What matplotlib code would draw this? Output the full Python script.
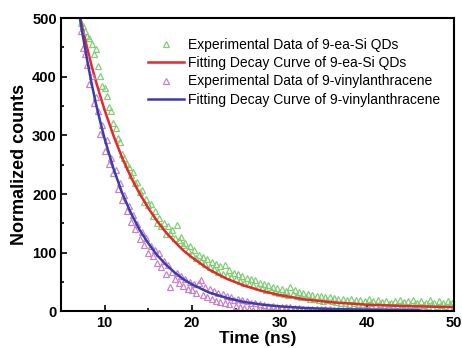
import numpy as np
import matplotlib
matplotlib.use("Agg")
import matplotlib.pyplot as plt
from matplotlib.ticker import MultipleLocator

plt.rcParams["font.family"] = ["Liberation Sans", "DejaVu Sans"]

# ── Data ──────────────────────────────────────────────────
T0, DT = 7.25, 0.25  # time channel grid of the measured decays

qd_counts = [
    491, 486, 478, 470, 466, 455, 438, 447, 418, 402, 385, 381, 367, 348, 342, 321,
    313, 296, 289, 268, 262, 251, 246, 233, 238, 219, 221, 204, 207, 186, 192, 181,
    183, 162, 171, 150, 160, 146, 151, 132, 146, 133, 138, 125, 148, 122, 127, 114,
    117, 105, 112, 98, 104, 91, 97, 86, 93, 81, 89, 76, 84, 72, 81, 68,
    77, 64, 79, 62, 70, 58, 66, 55, 63, 52, 60, 49, 57, 47, 55, 45,
    53, 41, 49, 40, 47, 37, 45, 36, 42, 33, 40, 31, 38, 30, 35, 28,
    41, 29, 37, 27, 33, 25, 31, 24, 30, 22, 28, 21, 27, 20, 26, 18,
    25, 19, 24, 17, 23, 16, 22, 15, 21, 14, 20, 13, 21, 14, 19, 12,
    20, 13, 18, 12, 21, 14, 17, 11, 19, 12, 16, 10, 18, 13, 15, 10,
    17, 11, 19, 12, 16, 10, 17, 11, 20, 12, 14, 9, 18, 11, 15, 10,
    19, 12, 14, 9, 17, 11, 15, 10, 18, 12, 14, 9,
]

va_counts = [
    478, 449, 438, 420, 387, 401, 356, 365, 341, 302, 318, 273, 292, 251, 262, 236,
    241, 208, 219, 190, 198, 171, 180, 152, 164, 140, 149, 124, 136, 113, 125, 99,
    112, 94, 104, 82, 99, 76, 86, 64, 79, 42, 68, 55, 66, 49, 60, 44,
    56, 38, 50, 36, 47, 31, 48, 54, 28, 41, 24, 38, 21, 35, 18, 31,
    16, 29, 14, 27, 12, 24, 20, 10, 22, 8, 19, 6, 17, 4, 15, 3,
    14, 2, 12, 3, 11, 2, 10, 4, 9, 2, 8, 3, 8, 2, 7, 3,
    7, 1, 6, 2, 6, 1, 5, 2, 5, 1, 5, 2, 4, 1, 4, 2,
    4, 1, 4, 1, 3, 1, 3, 1, 3, 0, 3, 1, 3, 0, 2, 1,
    3, 0, 2, 1, 2, 0, 2, 1, 2, 0, 2, 1, 2, 0, 2, 1,
    2, 0, 1, 1, 2, 0, 1, 1, 2, 0, 1, 1, 1, 0, 1,
]

qd_fit_t = [7.1, 7.5, 8, 8.5, 9, 9.5, 10, 11, 12, 13, 14, 15, 16, 17, 18, 19, 20,
            22, 24, 26, 28, 30, 33, 36, 40, 45, 50]
qd_fit_y = [507, 480, 449, 419, 392, 367, 343, 300, 262, 229, 201, 176, 154, 135, 119, 104, 92,
            71, 55.5, 44, 35, 28, 20.4, 15.6, 11.5, 9, 7.4]

va_fit_t = [7.1, 7.5, 8, 8.5, 9, 9.5, 10, 11, 12, 13, 14, 15, 16, 17, 18, 19, 20,
            22, 24, 26, 28, 30, 33, 36, 40, 43, 46]
va_fit_y = [506, 470, 428, 389, 354, 323, 294, 244, 202, 168, 139, 116, 96, 80, 66.5, 55, 46,
            32, 23, 16, 11.7, 8.7, 5.8, 4.2, 3, 2.5, 2.2]

labels = [
    "Experimental Data of 9-ea-Si QDs",
    "Fitting Decay Curve of 9-ea-Si QDs",
    "Experimental Data of 9-vinylanthracene",
    "Fitting Decay Curve of 9-vinylanthracene",
]

qd_t = T0 + DT * np.arange(len(qd_counts))
va_t = T0 + DT * np.arange(len(va_counts))

# ── Figure ────────────────────────────────────────────────
fig = plt.figure(figsize=(4.62, 3.48), dpi=100)
ax = fig.add_axes([0.132, 0.105, 0.851, 0.843])

ax.plot(qd_t, qd_counts, "^", ms=4.3, mfc="none", mec="#7fcf77", mew=0.9, label=labels[0])
ax.plot(qd_fit_t, qd_fit_y, "-", color="#e8262b", lw=1.8, label=labels[1])
ax.plot(va_t, va_counts, "^", ms=4.3, mfc="none", mec="#c883c8", mew=0.9, label=labels[2])
ax.plot(va_fit_t, va_fit_y, "-", color="#3b3eaa", lw=1.8, label=labels[3])

ax.set_xlim(5, 50)
ax.set_ylim(0, 500)
ax.xaxis.set_major_locator(MultipleLocator(10))
ax.xaxis.set_minor_locator(MultipleLocator(5))
ax.yaxis.set_major_locator(MultipleLocator(100))
ax.yaxis.set_minor_locator(MultipleLocator(50))
ax.tick_params(which="both", direction="in", width=1.2)
ax.tick_params(which="major", length=4, labelsize=10.5, pad=3)
ax.tick_params(which="minor", length=2.5)
for lab in ax.get_xticklabels() + ax.get_yticklabels():
    lab.set_fontweight("bold")
for sp in ax.spines.values():
    sp.set_linewidth(1.5)

ax.set_xlabel("Time (ns)", fontsize=12.5, fontweight="bold", labelpad=1)
ax.set_ylabel("Normalized counts", fontsize=13, fontweight="bold", labelpad=3)

ax.legend(loc="upper left", bbox_to_anchor=(0.221, 0.932), frameon=False,
          fontsize=10, numpoints=1, handlelength=2.6, handletextpad=0.3,
          labelspacing=0.3, borderpad=0, borderaxespad=0)

fig.savefig("out.png", dpi=100)
